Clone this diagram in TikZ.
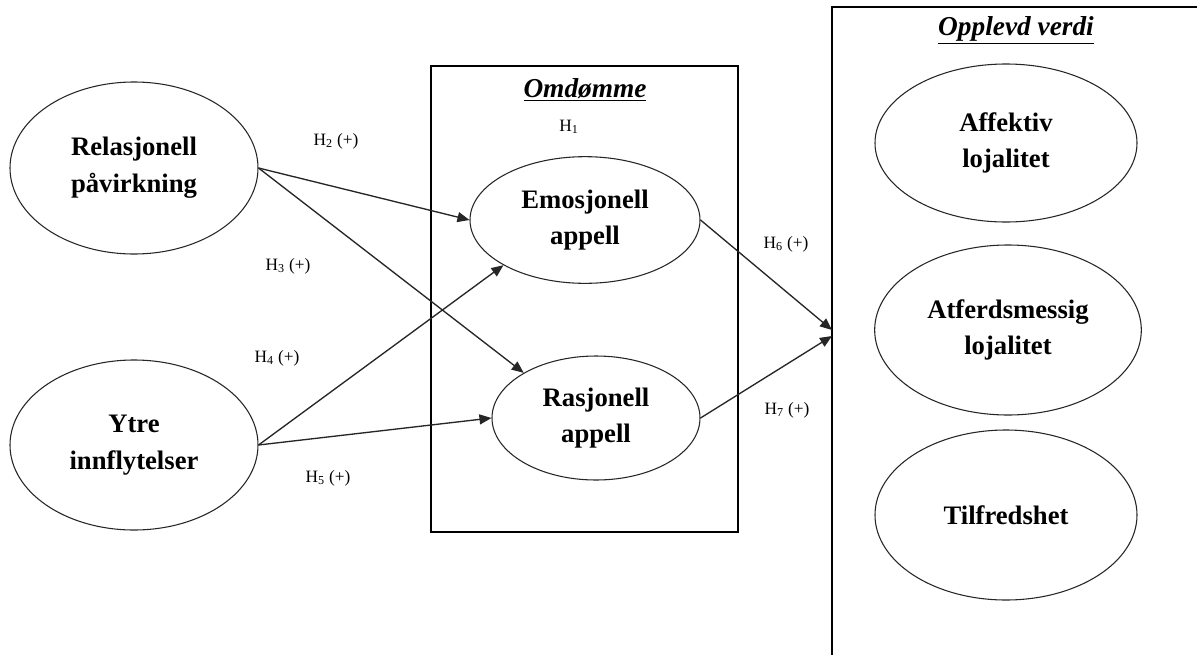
\documentclass[tikz,border=0pt]{standalone}
\usepackage{fontspec}
\setmainfont{Liberation Serif}
\usetikzlibrary{shapes.geometric,arrows.meta}
\begin{document}
\begin{tikzpicture}[x=0.75pt,y=-0.75pt,
  construct/.style={draw=black!85,line width=0.8pt,ellipse,inner sep=0pt,align=center,
    font=\fontsize{20}{27.5}\selectfont\bfseries},
  groupbox/.style={draw=black,line width=1pt},
  grouptitle/.style={font=\fontsize{20.5}{24}\selectfont\bfseries\itshape,inner sep=0pt},
  hyp/.style={font=\fontsize{13}{15}\selectfont,inner sep=0pt},
  path/.style={draw=black!85,line width=1pt,-{Triangle[length=9pt,width=7.5pt]}}]
\clip (0,0) rectangle (1197,654);
\fill[white] (0,0) rectangle (1197,654);

% grouping frames
\draw[groupbox] (431,66) rectangle (738,532);
\draw[groupbox] (832,7) rectangle (1215,680);
\node[grouptitle] (omd) at (585,90) {\underline{Omdømme}};
\node[grouptitle] (opv) at (1016,30) {\underline{Opplevd verdi}};

% antecedents
\node[construct,minimum width=186pt,minimum height=129pt] (rel) at (134,168) {Relasjonell\\påvirkning};
\node[construct,minimum width=186pt,minimum height=127.5pt] (ytre) at (134,445) {Ytre\\innflytelser};

% reputation dimensions
\node[construct,minimum width=172.5pt,minimum height=95pt] (emo) at (585,220) {Emosjonell\\appell};
\node[construct,minimum width=156pt,minimum height=93pt] (ras) at (596,418) {Rasjonell\\appell};

% perceived value outcomes
\node[construct,minimum width=196.5pt,minimum height=118.5pt] (aff) at (1006,143) {Affektiv\\lojalitet};
\node[construct,minimum width=200pt,minimum height=127.5pt] (atf) at (1008,330) {Atferdsmessig\\lojalitet};
\node[construct,minimum width=196.5pt,minimum height=127.5pt] (tilf) at (1006,515) {Tilfredshet};

% arrow targets on the frame edge
\coordinate (in1) at (832,330);
\coordinate (in2) at (832,336);

% hypothesised paths
\draw[path] (rel.east) -- (emo.west);
\draw[path] (rel.east) -- (ras.148);
\draw[path] (ytre.east) -- (emo.209);
\draw[path] (ytre.east) -- (ras.west);
\draw[path] (emo.east) -- (in1);
\draw[path] (ras.east) -- (in2);

% hypothesis labels
\node[hyp] (h1) at (569,127) {H\textsubscript{1}};
\node[hyp] (h2) at (336,141) {H\textsubscript{2} (+)};
\node[hyp] (h3) at (288,266) {H\textsubscript{3} (+)};
\node[hyp] (h4) at (277,358) {H\textsubscript{4} (+)};
\node[hyp] (h5) at (328,478) {H\textsubscript{5} (+)};
\node[hyp] (h6) at (786,244) {H\textsubscript{6} (+)};
\node[hyp] (h7) at (787,410) {H\textsubscript{7} (+)};
\end{tikzpicture}
\end{document}
